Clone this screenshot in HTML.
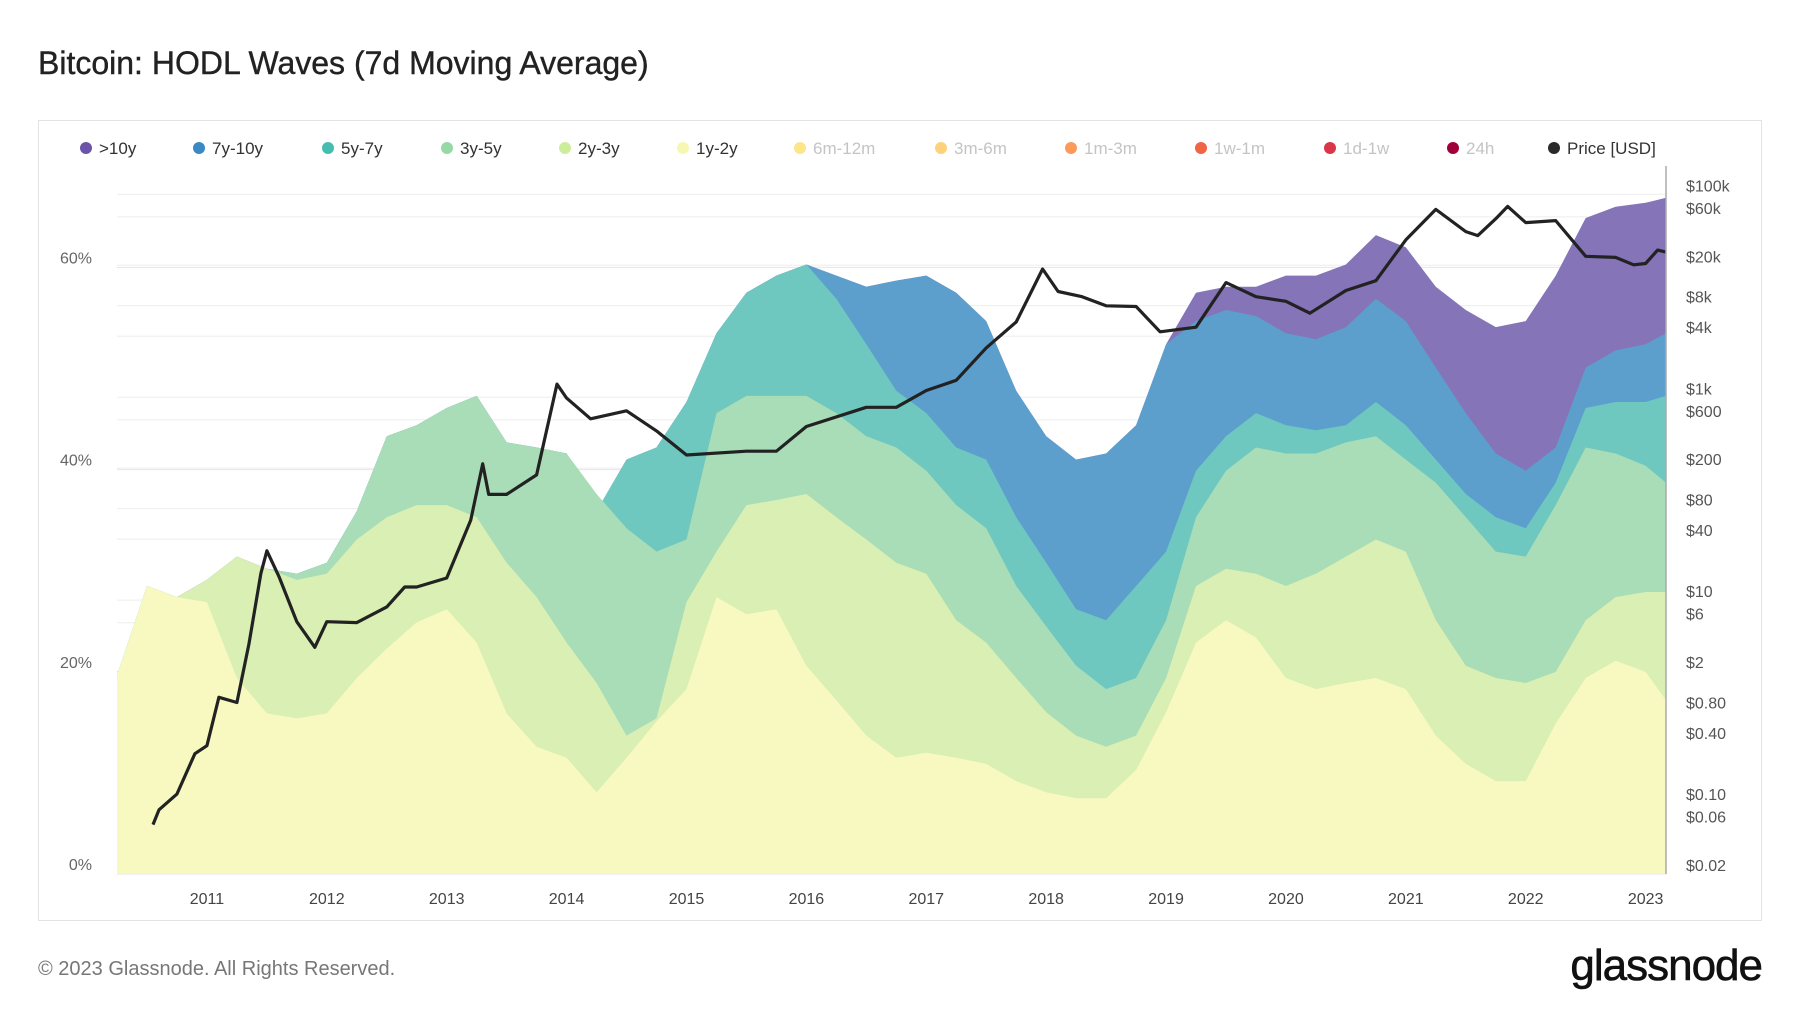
<!DOCTYPE html>
<html><head><meta charset="utf-8"><style>
html,body{margin:0;padding:0;background:#fff;}
svg{display:block;font-family:"Liberation Sans",sans-serif;}
</style></head><body>
<svg id="c" width="1800" height="1013" viewBox="0 0 1800 1013" xmlns="http://www.w3.org/2000/svg">
<text x="38" y="74" font-size="32" fill="#222" stroke="#222" stroke-width="0.4">Bitcoin: HODL Waves (7d Moving Average)</text>
<rect x="38.5" y="120.5" width="1723" height="800" fill="#fff" stroke="#e3e3e3"/>
<g id="grid"></g>
<text x="890" y="545" font-size="110" fill="#000" opacity="0.035" text-anchor="middle">glassnode</text>
<g id="areas"></g>
<g id="price"></g>
<line x1="1666" y1="166" x2="1666" y2="874" stroke="#aaa" stroke-width="1.5"/>
<g id="axes"></g>
<g id="legend"></g>
<text x="38" y="975" font-size="20" fill="#777">© 2023 Glassnode. All Rights Reserved.</text>
<text x="1762" y="980" font-size="44" fill="#111" text-anchor="end" stroke="#111" stroke-width="0.6" letter-spacing="-1">glassnode</text>
</svg>
<script>
const dates=[2010.25,2010.5,2010.75,2011,2011.25,2011.5,2011.75,2012,2012.25,2012.5,2012.75,2013,2013.25,2013.5,2013.75,2014,2014.25,2014.5,2014.75,2015,2015.25,2015.5,2015.75,2016,2016.25,2016.5,2016.75,2017,2017.25,2017.5,2017.75,2018,2018.25,2018.5,2018.75,2019,2019.25,2019.5,2019.75,2020,2020.25,2020.5,2020.75,2021,2021.25,2021.5,2021.75,2022,2022.25,2022.5,2022.75,2023,2023.17];
// cumulative top of each band (%)
const top1y2y=[18.75,27.6,26.5,26,18.5,15,14.5,15,18.5,21.4,24,25.3,22,15,11.7,10.6,7.2,10.6,14.2,17.4,26.5,24.8,25.3,19.7,16.3,12.8,10.6,11.1,10.6,10,8.3,7.2,6.6,6.6,9.4,15.1,22,24.2,22.5,18.5,17.4,18,18.5,17.4,12.8,10,8.3,8.3,14,18.5,20.2,19.1,16.3];
const top2y3y=[18.75,27.6,26.5,28.2,30.5,29.3,28.2,28.8,32.2,34.4,35.6,35.6,34.4,29.9,26.5,22,18,12.8,14.5,26,31,35.6,36.1,36.7,34.4,32.2,29.9,28.8,24.2,22,18.5,15.1,12.8,11.7,12.8,18.5,27.6,29.3,28.8,27.6,28.8,30.5,32.2,31,24.2,19.7,18.5,18,19.1,24.2,26.5,27,27];
const top3y5y=[18.75,27.6,26.5,28.2,30.5,29.3,28.8,29.9,35,42.4,43.5,45.2,46.4,41.8,41.3,40.7,36.7,33.3,31,32.2,44.7,46.4,46.4,46.4,44.7,42.4,41.3,39,35.6,33.3,27.6,23.6,19.7,17.4,18.5,24.2,34.4,39,41.3,40.7,40.7,41.8,42.4,40.1,37.8,34.4,31,30.5,35.6,41.3,40.7,39.5,37.8];
const top5y7y=[18.75,27.6,26.5,28.2,30.5,29.3,28.8,29.9,35,42.4,43.5,45.2,46.4,41.8,41.3,40.7,35,40.1,41.3,45.8,52.6,56.6,58.3,59.4,56,51.5,46.9,44.7,41.3,40.1,34.4,29.9,25.3,24.2,27.6,31,39,42.4,44.7,43.5,43,43.5,45.8,43.5,40.1,36.7,34.4,33.3,37.8,45.2,45.8,45.8,46.4];
const top7y10y=[18.75,27.6,26.5,28.2,30.5,29.3,28.8,29.9,35,42.4,43.5,45.2,46.4,41.8,41.3,40.7,35,40.1,41.3,45.8,52.6,56.6,58.3,59.4,58.3,57.2,57.8,58.3,56.6,53.8,46.9,42.4,40.1,40.7,43.5,51.5,53.8,54.9,54.3,52.6,52,53.2,56,53.8,49.2,44.7,40.7,39,41.3,49.2,50.9,51.5,52.6];
const top10y=[18.75,27.6,26.5,28.2,30.5,29.3,28.8,29.9,35,42.4,43.5,45.2,46.4,41.8,41.3,40.7,35,40.1,41.3,45.8,52.6,56.6,58.3,59.4,58.3,57.2,57.8,58.3,56.6,53.8,46.9,42.4,40.1,40.7,43.5,51.5,56.6,57.2,57.2,58.3,58.3,59.4,62.3,61.1,57.2,54.9,53.2,53.8,58.3,64,65.1,65.5,66];
const priceDates=[2010.55,2010.6,2010.75,2010.9,2011,2011.1,2011.25,2011.35,2011.45,2011.5,2011.6,2011.75,2011.9,2012,2012.25,2012.5,2012.65,2012.75,2013,2013.2,2013.3,2013.35,2013.5,2013.75,2013.92,2014,2014.2,2014.5,2014.75,2015,2015.5,2015.75,2016,2016.5,2016.75,2017,2017.25,2017.5,2017.75,2017.97,2018.1,2018.3,2018.5,2018.75,2018.95,2019.25,2019.5,2019.75,2020,2020.2,2020.5,2020.75,2021,2021.25,2021.5,2021.6,2021.75,2021.85,2022,2022.25,2022.5,2022.75,2022.9,2023,2023.1,2023.17];
const priceValues=[0.05,0.07,0.1,0.25,0.3,0.9,0.8,3,15,25,14,5,2.8,5,4.9,7,11,11,13.5,50,180,90,90,140,1100,800,500,600,380,220,240,240,420,650,650,950,1200,2500,4500,15000,9000,8000,6500,6400,3600,4000,11000,8000,7200,5500,9200,11500,29000,58000,35000,32000,47000,62000,43000,45000,20000,19500,16500,17000,23000,22000];
const pctTicks=[0,20,40,60];
const priceTicks=[0.02,0.06,0.1,0.4,0.8,2,6,10,40,80,200,600,1000,4000,8000,20000,60000,100000];
const priceTickLabels=["$0.02","$0.06","$0.10","$0.40","$0.80","$2","$6","$10","$40","$80","$200","$600","$1k","$4k","$8k","$20k","$60k","$100k"];
const years=[2011,2012,2013,2014,2015,2016,2017,2018,2019,2020,2021,2022,2023];
const legendLabels=[">10y","7y-10y","5y-7y","3y-5y","2y-3y","1y-2y","6m-12m","3m-6m","1m-3m","1w-1m","1d-1w","24h","Price [USD]"];
const legendColors=["#6a55a8","#3a88c4","#45bdb0","#97d8a7","#cdec9c","#f6f8b2","#fde58a","#fdd27a","#fb9a5a","#f06543","#d9364a","#a0003a","#2a2a2a"];
const legendActive=[1,1,1,1,1,1,0,0,0,0,0,0,1];
const bandTops=[top1y2y,top2y3y,top3y5y,top5y7y,top7y10y,top10y];
const bandNames=["band-1y-2y","band-2y-3y","band-3y-5y","band-5y-7y","band-7y-10y","band-10y-plus"];
const bandColors=["#f7f9c0","#daefb3","#a9ddb7","#6fc8bf","#5c9fcd","#8574b7"];

const NS="http://www.w3.org/2000/svg";
const X0=117,X1=1666,BOT=874;
const xs=d=>X0+(d-2010.25)/(2023.17-2010.25)*(X1-X0);
const ysPct=p=>865-p*10.11;
const gridPct=p=>874-p*10.11;
const ysPrice=v=>865-(Math.log10(v)+1.699)*101.45;
const gridPrice=v=>874-(Math.log10(v)+1.699)*101.45;
function mk(tag,attrs,parent){const e=document.createElementNS(NS,tag);for(const k in attrs)e.setAttribute(k,attrs[k]);parent.appendChild(e);return e;}

const grid=document.getElementById('grid');
priceTicks.forEach((v,i)=>{
  const l=mk('line',{x1:X0,x2:X1,y1:gridPrice(v),y2:gridPrice(v),stroke:'#eeeeee','stroke-width':1},grid);
  
  
});
pctTicks.forEach(p=>{
  const l=mk('line',{x1:X0,x2:X1,y1:gridPct(p),y2:gridPct(p),stroke:'#e6e6e6','stroke-width':1},grid);
  
  
});

const areas=document.getElementById('areas');
for(let b=bandTops.length-1;b>=0;b--){
  const t=bandTops[b];
  let d='M'+xs(dates[0])+','+BOT;
  dates.forEach((dt,i)=>{d+=' L'+xs(dt).toFixed(1)+','+ysPct(t[i]).toFixed(1);});
  d+=' L'+xs(dates[dates.length-1])+','+BOT+' Z';
  const p=mk('path',{d:d,fill:bandColors[b]},areas);
  
  
}

const pg=document.getElementById('price');
let pd='';
priceDates.forEach((dt,i)=>{pd+=(i?' L':'M')+xs(dt).toFixed(1)+','+ysPrice(priceValues[i]).toFixed(1);});
const pl=mk('path',{d:pd,fill:'none',stroke:'#222','stroke-width':3.2,'stroke-linejoin':'round'},pg);



const ax=document.getElementById('axes');
pctTicks.forEach(p=>{
  const t=mk('text',{x:92,y:gridPct(p)-4,'font-size':16,fill:'#666','text-anchor':'end'},ax);
  t.textContent=p+'%';
  
  
});
priceTicks.forEach((v,i)=>{
  const t=mk('text',{x:1686,y:gridPrice(v)-3,'font-size':16,fill:'#555'},ax);
  t.textContent=priceTickLabels[i];
  
  
});
years.forEach(y=>{
  const t=mk('text',{x:xs(y),y:904,'font-size':16,fill:'#444','text-anchor':'middle'},ax);
  t.textContent=y;
  
  
});

const lg=document.getElementById('legend');
const lx=[86,199,328,447,565,683,800,941,1071,1201,1330,1453,1554];
legendLabels.forEach((s,i)=>{
  const g=mk('g',{},lg);
  
  
  mk('circle',{cx:lx[i],cy:148,r:6,fill:legendColors[i]},g);
  const t=mk('text',{x:lx[i]+13,y:154,'font-size':17,fill:legendActive[i]?'#333':'#c4c4c4'},g);
  t.textContent=s;
});
</script>
</body></html>
